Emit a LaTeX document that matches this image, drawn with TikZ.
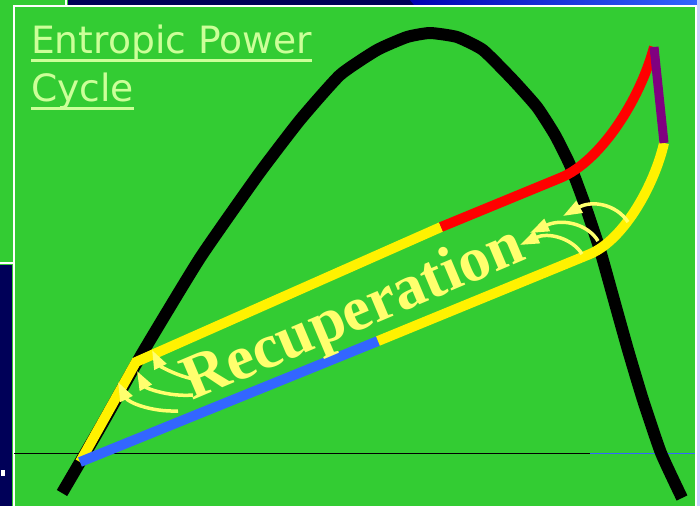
\documentclass[tikz,border=0pt]{standalone}
\usepackage{fontspec}
\usetikzlibrary{arrows.meta}
\newfontfamily\titlefont{DejaVu Sans}
\newfontfamily\recfont{Liberation Serif}
\definecolor{bggreen}{RGB}{51,204,51}
\definecolor{navy}{RGB}{0,0,88}
\definecolor{titlecol}{RGB}{204,255,153}
\definecolor{recyel}{RGB}{255,255,110}
\definecolor{cycblue}{RGB}{51,102,255}
\definecolor{cycpurple}{RGB}{128,0,128}
\definecolor{edgeblue}{RGB}{200,210,255}
\begin{document}
\begin{tikzpicture}[x=1pt,y=-1pt,
  titletext/.style={anchor=base west, inner sep=0pt, text=titlecol, font=\titlefont\fontsize{37.6}{44}\selectfont},
  uline/.style={titlecol, line width=3pt},
  cyc/.style={line width=10pt},
  heatarrow/.style={recyel, line width=3.5pt, -{Triangle[length=19pt,width=13pt]}},
  frame/.style={white, line width=2pt}]
\useasboundingbox (0,0) rectangle (700,506);
% background
\fill[bggreen] (0,0) rectangle (700,506);
\fill[navy] (68,0) rectangle (414,5);
\shade[left color=blue!70!black, right color=cycblue] (410,0) -- (700,0) -- (700,5) -- (414,5) -- cycle;
\fill[navy] (0,265) rectangle (12,506);
\fill[white] (1,470) rectangle (5,476);
\fill[edgeblue] (697,0) rectangle (700,506);
\draw[frame] (66,0) -- (66,5);
\draw[frame] (0,263) -- (13,263);
\draw[frame] (13.5,506) -- (13.5,5.5) -- (696,5.5) -- (696,506);
\draw[black, line width=1pt] (14,453) -- (590,453);
\draw[cycblue, line width=1pt] (590,453) -- (695,453);
% title
\node[titletext] (t1) at (31,53) {Entropic Power};
\node[titletext] (t2) at (31,101) {Cycle};
\draw[uline] ([yshift=-7pt]t1.base west) -- ([yshift=-7pt]t1.base east);
\draw[uline] ([yshift=-7pt]t2.base west) -- ([yshift=-7pt]t2.base east);
% saturation dome
\draw[black, line width=12pt, line join=round] plot[smooth, tension=0.3] coordinates {
 (62,493) (100,428) (143,352) (200,258) (258,175) (300,120) (340,75) (377,50)
 (407,37) (430,33) (457,37) (483,50) (513,80) (537,107) (555,135) (570,165)
 (585,205) (600,250) (614,300) (628,350) (643,400) (661,453) (682,498)};
% cycle points
\coordinate (A) at (80,462);
\coordinate (B) at (378,341);
\coordinate (C) at (590,254);
\coordinate (D) at (664,143);
\coordinate (E) at (654,47);
\coordinate (F) at (560,178);
\coordinate (G) at (441,227);
\coordinate (H) at (136,362);
\draw[cyc, yellow, line join=miter] (G) -- (H) -- (A);
\draw[cyc, cycblue] (A) -- (B);
\draw[cyc, yellow] (B) -- (C) .. controls (625,239) and (655,183) .. (D);
\draw[cyc, red] (G) -- (F) .. controls (600,162) and (640,100) .. (E);
\draw[line width=9pt, cycpurple] (E) -- (D);
% label
\node[rotate=22.9, anchor=base, inner sep=0pt, text=recyel, font=\recfont\bfseries\fontsize{63}{63}\selectfont] (rec) at (360,330) {Recuperation};
% heat arrows, left group
\coordinate (l1s) at (178,411); \coordinate (l1e) at (118,382);
\coordinate (l2s) at (193,395); \coordinate (l2e) at (137,371);
\coordinate (l3s) at (200,380); \coordinate (l3e) at (152,350);
\draw[heatarrow] (l1s) .. controls (150,412) and (128,402) .. (l1e);
\draw[heatarrow] (l2s) .. controls (168,397) and (146,388) .. (l2e);
\draw[heatarrow] (l3s) .. controls (180,378) and (160,366) .. (l3e);
% heat arrows, right group
\coordinate (r1s) at (628,222); \coordinate (r1e) at (563,216);
\coordinate (r2s) at (598,241); \coordinate (r2e) at (530,233);
\coordinate (r3s) at (582,254); \coordinate (r3e) at (520,245);
\draw[heatarrow] (r1s) .. controls (616,204) and (592,200) .. (r1e);
\draw[heatarrow] (r2s) .. controls (588,224) and (562,218) .. (r2e);
\draw[heatarrow] (r3s) .. controls (572,238) and (548,232) .. (r3e);
\end{tikzpicture}
\end{document}
